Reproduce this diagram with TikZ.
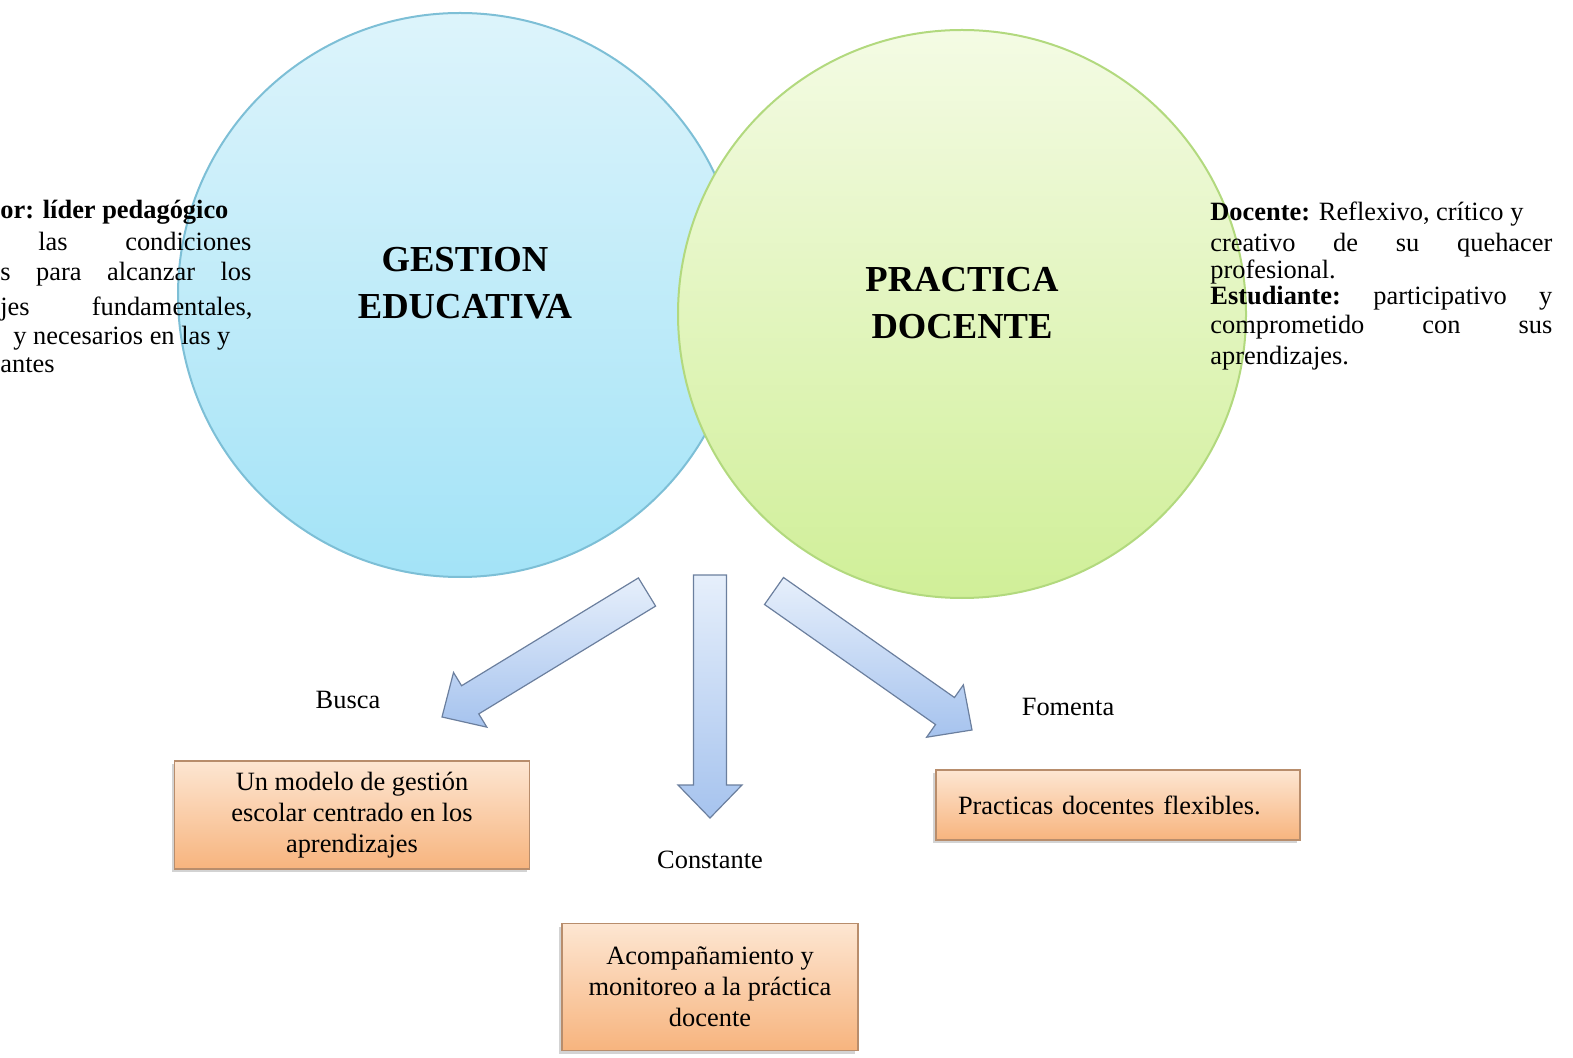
\documentclass[tikz,border=0pt]{standalone}
\usepackage{fontspec}
\setmainfont{Liberation Serif}
\usepackage{xcolor}
\usetikzlibrary{positioning}
\usetikzlibrary{calc}
\usetikzlibrary{shadows}

\definecolor{bluetop}{HTML}{DDF4FB}
\definecolor{bluebot}{HTML}{A3E3F7}
\definecolor{blueedge}{HTML}{7DBFD6}
\definecolor{greentop}{HTML}{F4FBE4}
\definecolor{greenbot}{HTML}{D0EF98}
\definecolor{greenedge}{HTML}{B2D97E}
\definecolor{arrowtop}{HTML}{E6EFFB}
\definecolor{arrowbot}{HTML}{A6C3EE}
\definecolor{arrowedge}{HTML}{6B7F9E}
\definecolor{boxtop}{HTML}{FDE6D2}
\definecolor{boxbot}{HTML}{F7B47E}
\definecolor{boxedge}{HTML}{B88D6C}

% block arrow from tail #1 to tip #2
\newcommand{\bigarrow}[2]{%
\coordinate (hbase) at ($(#2)!16.5pt!(#1)$);
\shade[arrowshape] ($(#1)!8.25pt!90:(#2)$) -- ($(hbase)!8.25pt!90:(#2)$)
  -- ($(hbase)!16pt!90:(#2)$) -- (#2) -- ($(hbase)!16pt!-90:(#2)$)
  -- ($(hbase)!8.25pt!-90:(#2)$) -- ($(#1)!8.25pt!-90:(#2)$) -- cycle;
}

\tikzset{
  bodytext/.style={font=\fontsize{13.2pt}{15.5pt}\selectfont, inner sep=0pt},
  sideline/.style={bodytext, anchor=base west, align=left},
  title/.style={font=\fontsize{18.3pt}{23.3pt}\selectfont\bfseries, align=center, inner sep=0pt},
  arrowshape/.style={draw=arrowedge, line width=0.6pt, top color=arrowtop, bottom color=arrowbot},
  resultbox/.style={bodytext, draw=boxedge, line width=0.7pt, top color=boxtop, bottom color=boxbot,
    drop shadow={shadow xshift=-1.5pt, shadow yshift=-1.5pt, opacity=0.35}},
}

\begin{document}
\begin{tikzpicture}[x=0.5pt, y=-0.5pt]
\useasboundingbox (0,0) rectangle (1573,1058);

% circles
\shade[top color=bluetop, bottom color=bluebot, draw=blueedge, line width=1pt] (460,295) circle (282);
\shade[top color=greentop, bottom color=greenbot, draw=greenedge, line width=1pt] (962,314) circle (284);

\node[title] (gestion) at (465,283) {GESTION\\EDUCATIVA};
\node[title] (practica) at (962,303) {PRACTICA\\DOCENTE};

% left text
\node[sideline] (dir1) at (0,219) {\textbf{or: líder pedagógico}};
\node[sideline, text width=106.5pt] (dir2) at (38,251) {las\hfill condiciones};
\node[sideline, text width=125.5pt] (dir3) at (0,281) {s\hfill para\hfill alcanzar\hfill los};
\node[sideline, text width=126pt] (dir4) at (0,316) {jes\hfill fundamentales,};
\node[sideline] (dir5) at (13,345) {y necesarios en las y};
\node[sideline] (dir6) at (0,373) {antes};

% right text
\node[sideline] (doc1) at (1210,221) {\textbf{Docente:} Reflexivo, crítico y};
\node[sideline, text width=171pt] (doc2) at (1210,252) {creativo\hfill de\hfill su\hfill quehacer};
\node[sideline] (doc3) at (1210,279) {profesional.};
\node[sideline, text width=171pt] (est1) at (1210,305) {\textbf{Estudiante:}\hfill participativo\hfill y};
\node[sideline, text width=171pt] (est2) at (1210,334) {comprometido\hfill con\hfill sus};
\node[sideline] (est3) at (1210,365) {aprendizajes.};

% arrows
\coordinate (buscatail) at (647,592);
\coordinate (buscatip) at (442,717);
\coordinate (consttail) at (710,575);
\coordinate (consttip) at (710,818);
\coordinate (fomtail) at (774,591);
\coordinate (fomtip) at (972,730);
\bigarrow{buscatail}{buscatip}
\bigarrow{consttail}{consttip}
\bigarrow{fomtail}{fomtip}

\node[bodytext] (busca) at (348,700) {Busca};
\node[bodytext] (constante) at (710,860) {Constante};
\node[bodytext] (fomenta) at (1068,707) {Fomenta};

% boxes
\node[resultbox, align=center, minimum width=177.5pt, minimum height=54pt] (modelo) at (352,815)
  {Un modelo de gestión\\escolar centrado en los\\aprendizajes};
\node[resultbox, align=center, minimum width=148pt, minimum height=63.5pt] (acomp) at (710,987)
  {Acompañamiento y\\monitoreo a la práctica\\docente};
\node[resultbox, align=left, text width=160pt, inner xsep=11pt, minimum height=35pt] (flexibles) at (1118,805)
  {Practicas docentes flexibles.};

\end{tikzpicture}
\end{document}
